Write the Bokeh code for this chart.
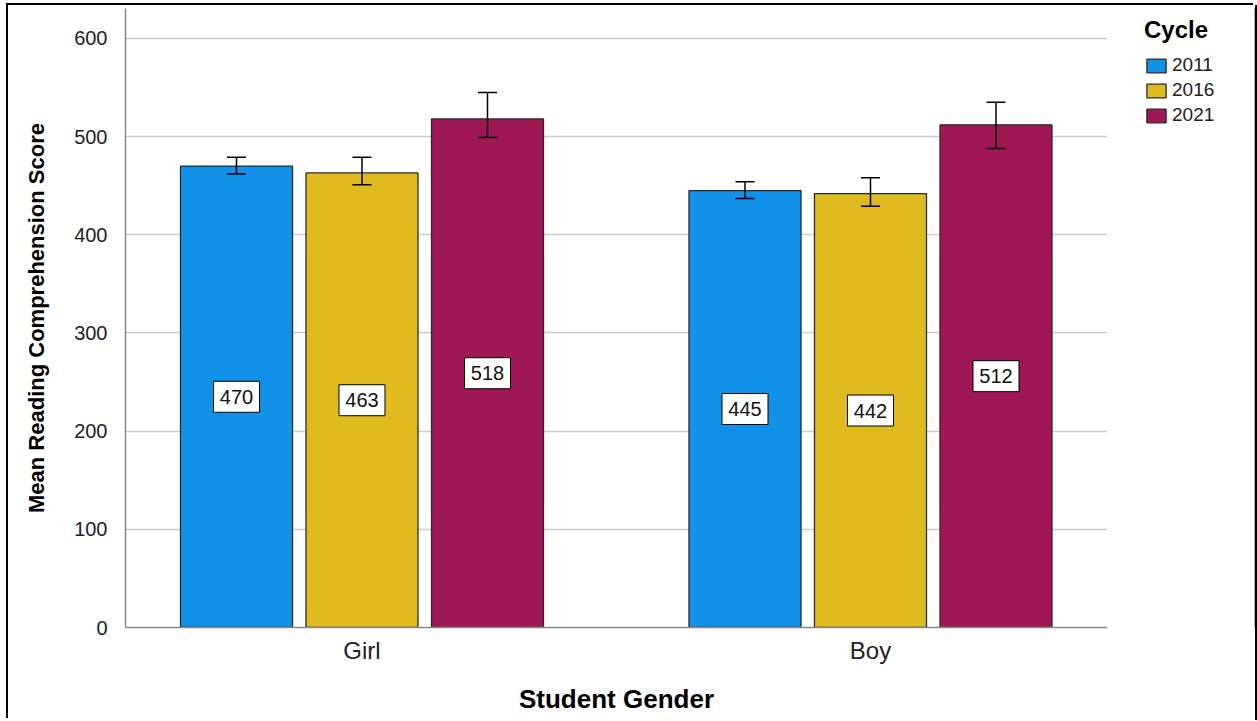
from bokeh.plotting import figure
from bokeh.layouts import row
from bokeh.models import (ColumnDataSource, Range1d, FixedTicker, Whisker, TeeHead,
                          Legend, LegendItem)
from bokeh.core.properties import value
from bokeh.embed import file_html
from bokeh.resources import INLINE

# ---- data ----
genders = ["Girl", "Boy"]
cycles = ["2011", "2016", "2021"]
mean_2011 = [470, 445]
mean_2016 = [463, 442]
mean_2021 = [518, 512]
lower_2011 = [462, 437]
upper_2011 = [479, 454]
lower_2016 = [451, 429]
upper_2016 = [479, 458]
lower_2021 = [499, 488]
upper_2021 = [545, 535]
y_ticks = [0, 100, 200, 300, 400, 500, 600]

means = [mean_2011, mean_2016, mean_2021]
lowers = [lower_2011, lower_2016, lower_2021]
uppers = [upper_2011, upper_2016, upper_2021]
colors = ["#1192e8", "#e0bb1f", "#9f1853"]
offsets = [-0.2468, 0.0, 0.2468]
bar_w = 0.2203

FONT = "Liberation Sans"
X_LO, X_HI = -0.4651, 1.4661
Y_HI = 630.5

p = figure(width=1099, height=715, output_backend="svg", toolbar_location=None,
           x_range=Range1d(X_LO, X_HI), y_range=Range1d(0, Y_HI),
           min_border_left=117, min_border_right=0, min_border_top=3,
           min_border_bottom=93)
p.outline_line_color = None
p.background_fill_color = "white"
p.border_fill_color = "white"

for ci, c in enumerate(cycles):
    xs = [i + offsets[ci] for i in range(len(genders))]
    src = ColumnDataSource(dict(x=xs, top=means[ci], mid=[m / 2 for m in means[ci]],
                                lo=lowers[ci], hi=uppers[ci],
                                lab=[str(m) for m in means[ci]]))
    p.vbar(x="x", top="top", bottom=0, width=bar_w, source=src,
           fill_color=colors[ci], line_color="#2a2a2a", line_width=1.3)
    w = Whisker(base="x", upper="hi", lower="lo", source=src, dimension="height",
                line_color="black", line_width=1.5, level="overlay",
                upper_head=TeeHead(size=19, line_color="black", line_width=1.5),
                lower_head=TeeHead(size=19, line_color="black", line_width=1.5))
    p.add_layout(w)
    # value label boxes
    p.rect(x="x", y="mid", width=46, height=31, width_units="screen",
           height_units="screen", source=src, fill_color="white",
           line_color="black", line_width=1)
    p.text(x="x", y="mid", text="lab", source=src, text_align="center",
           text_baseline="middle", text_font=value(FONT), text_font_size="20px",
           text_color="#111111")

# axes
p.xaxis.ticker = FixedTicker(ticks=list(range(len(genders))))
p.xaxis.major_label_overrides = {i: g for i, g in enumerate(genders)}
p.yaxis.ticker = FixedTicker(ticks=y_ticks)
for ax in (p.xaxis, p.yaxis):
    ax.axis_line_color = "#888888"
    ax.axis_line_width = 1.5
    ax.major_tick_line_color = None
    ax.minor_tick_line_color = None
    ax.major_label_text_font = FONT
    ax.major_label_text_color = "#222222"
    ax.axis_label_text_font = FONT
    ax.axis_label_text_font_style = "bold"
    ax.axis_label_text_color = "black"
p.yaxis.major_label_text_font_size = "20px"
p.yaxis.major_label_standoff = 12
p.yaxis.axis_label = "Mean Reading Comprehension Score"
p.yaxis.axis_label_text_font_size = "22px"
p.yaxis.axis_label_standoff = 22
p.xaxis.major_label_text_font_size = "24px"
p.xaxis.major_label_standoff = 3
p.xaxis.axis_label = "Student Gender"
p.xaxis.axis_label_text_font_size = "26px"
p.xaxis.axis_label_standoff = 17

p.xgrid.grid_line_color = None
p.ygrid.grid_line_color = "#cccccc"
p.ygrid.grid_line_width = 1.5

# ---- legend panel (separate narrow figure to the right) ----
lp = figure(width=148, height=715, output_backend="svg", toolbar_location=None,
            x_range=Range1d(0, 1), y_range=Range1d(0, 1),
            x_axis_location=None, y_axis_location=None, min_border=0)
lp.grid.visible = False
lp.outline_line_color = None
lp.border_fill_color = "white"
lp.background_fill_color = "white"
# legend key renderers: one point each, kept outside the visible range
key_renderers = [lp.vbar(x=[5], top=[1], width=0.1, fill_color=col,
                         line_color="#2a2a2a", line_width=1.3) for col in colors]

legend = Legend(items=[LegendItem(label=c, renderers=[r]) for c, r in zip(cycles, key_renderers)],
                location=(37, 501), title="Cycle", orientation="vertical",
                margin=0, padding=0, spacing=3, glyph_width=24, glyph_height=17,
                label_height=21, label_standoff=4, title_standoff=10,
                border_line_color=None, background_fill_alpha=0)
legend.title_text_font = FONT
legend.title_text_font_size = "24px"
legend.title_text_font_style = "bold"
legend.title_text_color = "black"
legend.label_text_font = FONT
legend.label_text_font_size = "19px"
legend.label_text_color = "#222222"
lp.add_layout(legend)

layout = row(p, lp)
layout.styles = {"margin-left": "8px", "margin-top": "5px",
                 "box-shadow": "-2px -2px 0 0 black, 2px 0 0 0 black"}

open("out.html", "w").write(file_html(layout, INLINE))
